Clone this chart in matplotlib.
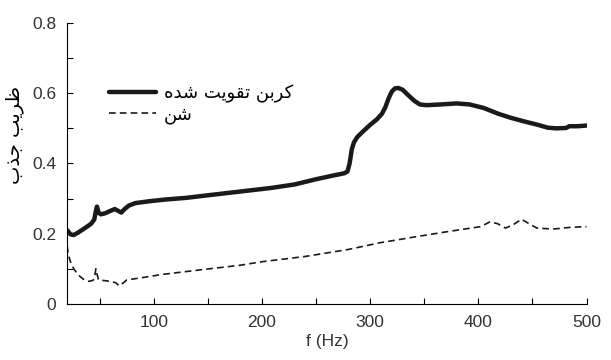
import matplotlib
matplotlib.use("Agg")
import matplotlib.pyplot as plt
from matplotlib.ticker import MultipleLocator, FuncFormatter

# Persian text shaping (matplotlib has no RTL / joining support)
FORMS = {  # isolated, final, initial, medial
    'ک': '\uFB8E\uFB8F\uFB90\uFB91', 'ر': '\uFEAD\uFEAE', 'ب': '\uFE8F\uFE90\uFE91\uFE92',
    'ن': '\uFEE5\uFEE6\uFEE7\uFEE8', 'ت': '\uFE95\uFE96\uFE97\uFE98', 'ق': '\uFED5\uFED6\uFED7\uFED8',
    'و': '\uFEED\uFEEE', 'ی': '\uFBFC\uFBFD\uFBFE\uFBFF', 'ش': '\uFEB5\uFEB6\uFEB7\uFEB8',
    'د': '\uFEA9\uFEAA', 'ه': '\uFEE9\uFEEA\uFEEB\uFEEC', 'ض': '\uFEC5\uFEC6\uFEC7\uFEC8',
    'ج': '\uFE9D\uFE9E\uFE9F\uFEA0', 'ذ': '\uFEAB\uFEAC',
}


def shape(s):
    out = []
    for i, c in enumerate(s):
        if c not in FORMS:
            out.append(c)
            continue
        prev = s[i - 1] if i > 0 else ' '
        nxt = s[i + 1] if i < len(s) - 1 else ' '
        joins_prev = prev in FORMS and len(FORMS[prev]) == 4
        joins_next = nxt in FORMS and len(FORMS[c]) == 4
        f = FORMS[c]
        if joins_prev and joins_next:
            out.append(f[3])
        elif joins_prev:
            out.append(f[1])
        elif joins_next:
            out.append(f[2])
        else:
            out.append(f[0])
    return ''.join(reversed(out))


# data
f_carbon = [20, 23, 26, 30, 36, 42, 45, 46.5, 47.5, 49, 51, 55, 60, 64, 67, 70, 73, 77, 83,
            95, 110, 130, 152, 180, 208, 230, 250, 265, 276, 279, 281, 283, 285, 288, 293,
            300, 306, 311, 314, 317, 320, 323, 326, 330, 335, 341, 346, 352, 365, 380, 392,
            405, 418, 430, 442, 455, 464, 472, 481, 484, 492, 500]
a_carbon = [0.21, 0.198, 0.196, 0.203, 0.215, 0.228, 0.24, 0.265, 0.277, 0.26, 0.255, 0.258,
            0.265, 0.27, 0.265, 0.26, 0.27, 0.28, 0.287, 0.292, 0.297, 0.302, 0.31, 0.32,
            0.33, 0.34, 0.355, 0.365, 0.372, 0.377, 0.40, 0.44, 0.46, 0.475, 0.49, 0.51,
            0.525, 0.542, 0.56, 0.585, 0.605, 0.614, 0.615, 0.61, 0.595, 0.578, 0.568, 0.566,
            0.568, 0.571, 0.568, 0.558, 0.542, 0.53, 0.52, 0.51, 0.502, 0.50, 0.501, 0.506,
            0.506, 0.508]

f_sand = [20, 21, 23, 26, 30, 35, 40, 44, 45.5, 46.5, 47.5, 49, 55, 60, 65, 68, 72, 75, 90,
          106, 130, 152, 180, 200, 240, 280, 309, 340, 370, 402, 411, 418, 425, 432, 440,
          447, 454, 469, 485, 500]
a_sand = [0.165, 0.14, 0.12, 0.10, 0.083, 0.07, 0.064, 0.067, 0.08, 0.10, 0.085, 0.068,
          0.066, 0.064, 0.06, 0.051, 0.06, 0.068, 0.075, 0.083, 0.092, 0.10, 0.11, 0.12,
          0.135, 0.155, 0.174, 0.19, 0.205, 0.22, 0.234, 0.228, 0.216, 0.225, 0.241, 0.228,
          0.216, 0.213, 0.218, 0.22]

label_carbon = shape('کربن تقویت شده')
label_sand = shape('شن')
ylabel = shape('ضریب جذب')

plt.rcParams['font.family'] = ['Liberation Sans', 'DejaVu Sans']

fig = plt.figure(figsize=(6.11, 3.6), dpi=100)
ax = fig.add_axes([0.110, 0.156, 0.850, 0.780])

ax.plot(f_carbon, a_carbon, color='#1a1a1a', lw=3.2, solid_capstyle='round',
        solid_joinstyle='round', label=label_carbon)
ax.plot(f_sand, a_sand, color='#1a1a1a', lw=1.2, ls=(0, (4, 2.5)), label=label_sand)

ax.set_xlim(20, 500)
ax.set_ylim(0, 0.8)
ax.xaxis.set_major_locator(MultipleLocator(100))
ax.xaxis.set_minor_locator(MultipleLocator(50))
ax.yaxis.set_major_locator(MultipleLocator(0.2))
ax.yaxis.set_minor_locator(MultipleLocator(0.1))
ax.yaxis.set_major_formatter(FuncFormatter(lambda v, p: '%g' % round(v, 2)))
ax.tick_params(which='both', direction='in', length=4, width=0.8, labelsize=12.5,
               labelcolor='#333333', pad=8)

for s in ['top', 'right']:
    ax.spines[s].set_visible(False)

ax.set_xlabel('f (Hz)', fontsize=12.5, color='#333333', labelpad=3)
ax.set_ylabel(ylabel, fontsize=14, family=['DejaVu Sans'])
ax.yaxis.set_label_coords(-0.083, 0.60)

ax.legend(loc='upper left', bbox_to_anchor=(0.05, 0.84), frameon=False,
          prop={'family': ['DejaVu Sans'], 'size': 13}, handlelength=2.6,
          labelspacing=0.15, handletextpad=0.4)

fig.savefig('out.png', dpi=100)
